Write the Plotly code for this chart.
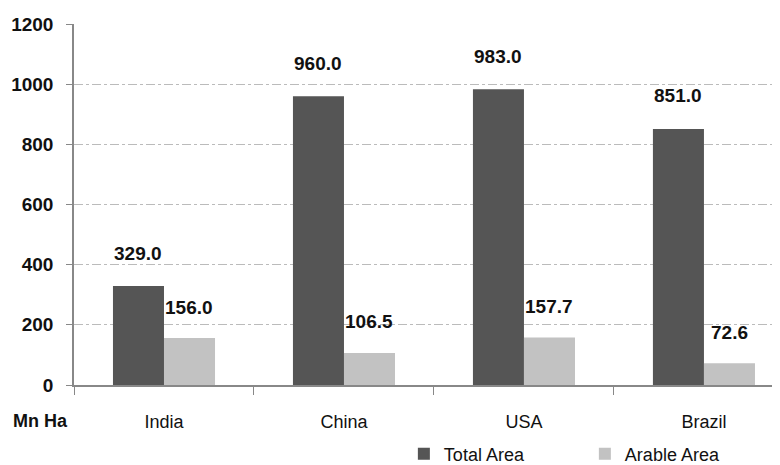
import plotly.graph_objects as go

countries = ["India", "China", "USA", "Brazil"]
total_area = [329.0, 960.0, 983.0, 851.0]
arable_area = [156.0, 106.5, 157.7, 72.6]
y_ticks = [0, 200, 400, 600, 800, 1000, 1200]
series_names = ["Total Area", "Arable Area"]

FONT = "Liberation Sans, Arial, sans-serif"
DARK = "#555555"
LIGHT = "#c2c2c2"

fig = go.Figure()
fig.add_trace(go.Bar(x=countries, y=total_area, name=series_names[0],
                     marker=dict(color=DARK, line=dict(width=0))))
fig.add_trace(go.Bar(x=countries, y=arable_area, name=series_names[1],
                     marker=dict(color=LIGHT, line=dict(width=0))))

anns = []
for c, v in zip(countries, total_area):
    anns.append(dict(x=c, y=v, xref="x", yref="y", text=f"<b>{v:.1f}</b>",
                     showarrow=False, xshift=-25.5, yshift=33,
                     font=dict(family=FONT, size=19, color="#111")))
for c, v in zip(countries, arable_area):
    anns.append(dict(x=c, y=v, xref="x", yref="y", text=f"<b>{v:.1f}</b>",
                     showarrow=False, xshift=25.5, yshift=31,
                     font=dict(family=FONT, size=19, color="#111")))
anns.append(dict(x=0, y=0, xref="paper", yref="paper", text="<b>Mn Ha</b>",
                 showarrow=False, xanchor="center", yanchor="middle",
                 xshift=-34, yshift=-36,
                 font=dict(family=FONT, size=18, color="#111")))

fig.update_layout(
    width=780, height=465,
    margin=dict(l=66, r=0, t=16, b=86),
    paper_bgcolor="white", plot_bgcolor="white",
    barmode="group", bargap=0.433, bargroupgap=0,
    annotations=anns,
    showlegend=True,
    legend=dict(orientation="h", x=0.462, y=-0.14, xanchor="left", yanchor="top",
                itemwidth=30, entrywidth=136, entrywidthmode="pixels",
                font=dict(family=FONT, size=18, color="#111"),
                bgcolor="rgba(0,0,0,0)", traceorder="normal"),
    xaxis=dict(range=[-0.5, 3.467], showgrid=False, showline=True, linecolor="#888",
               linewidth=1.5, ticks="outside", tickson="boundaries", ticklen=8,
               tickcolor="#888", ticklabelstandoff=20,
               tickfont=dict(family=FONT, size=18, color="#111")),
    yaxis=dict(range=[0, 1200], tickvals=y_ticks, showgrid=True, gridcolor="#bbbbbb",
               griddash="dashdot", gridwidth=1, showline=True, linecolor="#888",
               linewidth=1.5, ticks="outside", ticklen=6, tickcolor="#888",
               ticklabelstandoff=9, zeroline=False,
               tickfont=dict(family=FONT, size=19, color="#111", weight="bold")),
)

fig.write_html("out.html")
